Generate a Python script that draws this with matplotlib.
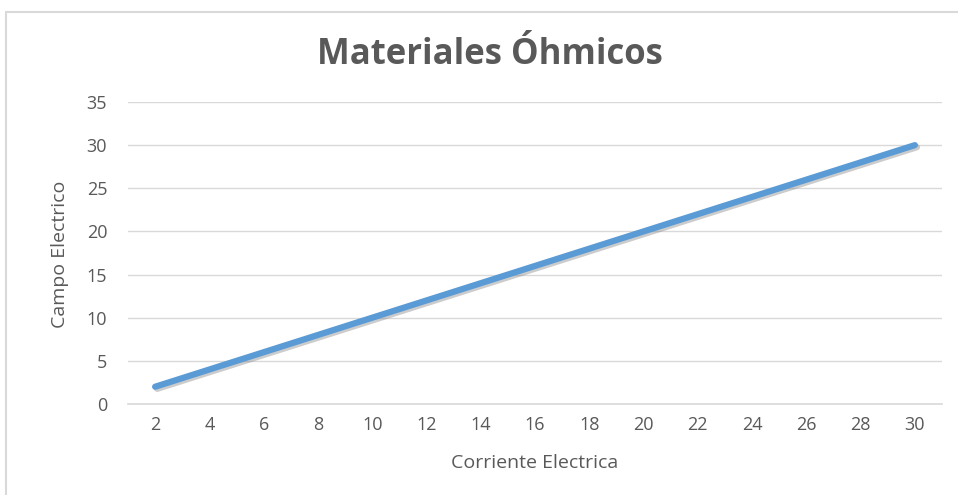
import matplotlib.pyplot as plt
import matplotlib.patheffects as pe
from matplotlib.patches import Rectangle

corriente = [2, 4, 6, 8, 10, 12, 14, 16, 18, 20, 22, 24, 26, 28, 30]
campo = [2, 4, 6, 8, 10, 12, 14, 16, 18, 20, 22, 24, 26, 28, 30]
yticks = [0, 5, 10, 15, 20, 25, 30, 35]

plt.rcParams['font.family'] = ['Open Sans', 'DejaVu Sans']

fig = plt.figure(figsize=(9.58, 4.95), dpi=100)
W, H = 958, 495

# chart border (cut off at right and bottom)
fig.patches.append(Rectangle((6 / W, -0.1), 1.2, 1.1 - 12 / H, transform=fig.transFigure,
                             fill=False, edgecolor='#d9d9d9', linewidth=1.5))

ax = fig.add_axes([128 / W, 1 - 404 / H, (942 - 128) / W, (404 - 102) / H])
pos = list(range(len(corriente)))
ax.plot(pos, campo, color='#5b9bd5', linewidth=4.5, solid_capstyle='round',
        path_effects=[pe.SimpleLineShadow(offset=(1.5, -1.5), shadow_color='gray', alpha=0.4),
                      pe.Normal()])
ax.set_xlim(-0.5, len(corriente) - 0.5)
ax.set_ylim(0, 35)
ax.set_yticks(yticks)
ax.set_xticks(pos)
ax.set_xticklabels([str(c) for c in corriente])
ax.grid(axis='y', color='#d9d9d9', linewidth=1)
ax.set_axisbelow(True)
for s in ['top', 'right', 'left']:
    ax.spines[s].set_visible(False)
ax.spines['bottom'].set_color('#d9d9d9')
ax.spines['bottom'].set_linewidth(1.2)
ax.tick_params(length=0, labelsize=13, labelcolor='#595959')
ax.tick_params(axis='x', pad=9)
ax.tick_params(axis='y', pad=15)

fig.text(490 / W, 1 - 55 / H, 'Materiales Óhmicos', ha='center', va='center',
         fontsize=25, fontweight='bold', color='#595959')
fig.text(535 / W, 1 - 463 / H, 'Corriente Electrica', ha='center', va='center',
         fontsize=14, color='#595959')
fig.text(60 / W, 1 - 254 / H, 'Campo Electrico', ha='center', va='center',
         fontsize=14, color='#595959', rotation=90)

fig.savefig('out.png', dpi=100)
